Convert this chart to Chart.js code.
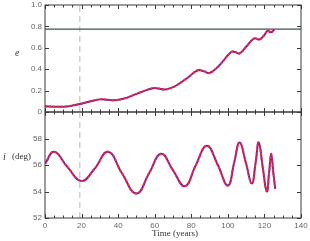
<!DOCTYPE html>
<html lang="en">
<head>
    <meta charset="UTF-8">
    <title>e and i vs time</title>
    <script src="https://cdn.jsdelivr.net/npm/chart.js"></script>
    <style>
        body {
            margin: 0;
            background: #fff;
        }

        .wrap {
            position: relative;
            width: 310px;
            height: 241px;
        }

        .wrap canvas {
            position: absolute;
            left: 0;
            top: 0;
        }
    </style>
</head>
<body>

    <div class="wrap">
        <canvas id="eChart" width="310" height="241"></canvas>
        <canvas id="iChart" width="310" height="241"></canvas>
    </div>

    <script>
        // eccentricity
        const timeE = [0, 5, 10, 15, 19, 25, 30, 34, 38, 43, 48, 54, 59, 62, 65.5, 69, 72, 78, 83.6, 87, 90, 95, 101.8, 104, 106.4, 110, 114.5, 117.3, 120, 121.8, 123.6, 125.4];
        const eccValues = [0.053, 0.05, 0.05, 0.06, 0.075, 0.1, 0.118, 0.115, 0.11, 0.125, 0.155, 0.195, 0.222, 0.22, 0.21, 0.225, 0.25, 0.32, 0.39, 0.38, 0.365, 0.43, 0.56, 0.56, 0.547, 0.61, 0.688, 0.678, 0.72, 0.76, 0.745, 0.772];

        // inclination (deg)
        const timeI = [0, 5, 12, 20, 27, 34.5, 42, 50, 57, 63.5, 70, 76.5, 82.5, 88.5, 94.5, 100, 103.5, 106.4, 109.8, 113.1, 115.2, 116.9, 119.1, 121.3, 122.6, 123.7, 124.8, 125.9];
        const incValues = [56.1, 57.0, 55.9, 54.8, 55.7, 57.0, 55.4, 53.85, 55.4, 56.85, 55.6, 54.4, 56.0, 57.45, 56.0, 54.45, 56.2, 57.7, 56.2, 54.6, 56.2, 57.7, 55.8, 54.0, 55.5, 56.85, 55.5, 54.2];

        const xTicks = [0, 20, 40, 60, 80, 100, 120, 140];
        const eTicks = [0, 0.2, 0.4, 0.6, 0.8, 1.0];
        const iTicks = [52, 54, 56, 58, 60];
        const markerTime = 19;
        const eLimit = 0.775;

        const purple = '#7a22a0';
        const red = '#ff2b2b';
        const tickFont = { family: 'Liberation Sans', size: 8 };
        const serif = 'Liberation Serif';

        function pts(xs, ys) {
            return xs.map((x, k) => ({ x: x, y: ys[k] }));
        }

        // box with inward ticks plus the axis titles
        const frame = {
            id: 'frame',
            afterDraw(chart, args, opts) {
                const { ctx, chartArea: a, scales: { x, y } } = chart;
                ctx.save();
                ctx.strokeStyle = '#3a3a3a';
                ctx.lineWidth = 1;
                ctx.strokeRect(a.left, a.top, a.width, a.height);
                ctx.beginPath();
                for (let v = xTicks[0]; v <= xTicks[xTicks.length - 1]; v += 5) {
                    const px = Math.round(x.getPixelForValue(v)) + 0.5;
                    const len = v % 20 === 0 ? 4 : 2.5;
                    ctx.moveTo(px, a.bottom); ctx.lineTo(px, a.bottom - len);
                    ctx.moveTo(px, a.top); ctx.lineTo(px, a.top + len);
                }
                opts.yTicks.forEach(v => {
                    const py = Math.round(y.getPixelForValue(v)) + 0.5;
                    ctx.moveTo(a.left, py); ctx.lineTo(a.left + 4, py);
                    ctx.moveTo(a.right, py); ctx.lineTo(a.right - 4, py);
                });
                ctx.stroke();
                ctx.fillStyle = '#333';
                ctx.textBaseline = 'middle';
                if (opts.kind === 'e') {
                    ctx.font = 'italic 10px ' + serif;
                    ctx.fillText('e', 15, 53);
                } else {
                    ctx.font = 'italic 10px ' + serif;
                    ctx.fillText('i', 3, 157);
                    ctx.font = '9px ' + serif;
                    ctx.fillText('(deg)', 12, 157);
                    ctx.textAlign = 'center';
                    ctx.fillText('Time (years)', 175, 234);
                }
                ctx.restore();
            }
        };

        function yFit(scale) {
            scale.width = 45;
            scale.paddingTop = 0;
            scale.paddingBottom = 0;
        }

        function curve(data, color, dash, order) {
            return {
                data: data,
                borderColor: color,
                borderWidth: 2,
                borderDash: dash || [],
                pointRadius: 0,
                tension: 0.45,
                order: order
            };
        }

        function refLine(data, color, dash, width) {
            return {
                data: data,
                borderColor: color,
                borderWidth: width,
                borderDash: dash,
                pointRadius: 0,
                order: 5
            };
        }

        // top panel: eccentricity
        new Chart(document.getElementById('eChart'), {
            type: 'line',
            data: {
                datasets: [
                    curve(pts(timeE, eccValues), red, [2, 2], 0),
                    curve(pts(timeE, eccValues), purple, null, 1),
                    refLine([{ x: 0, y: eLimit }, { x: 140, y: eLimit }], '#3d5358', [], 1.2),
                    refLine([{ x: markerTime, y: 0 }, { x: markerTime, y: 1 }], '#cfcfcf', [6, 4], 1.5)
                ]
            },
            options: {
                responsive: false,
                animation: false,
                devicePixelRatio: 1,
                layout: { padding: { left: 0, top: 5, right: 9, bottom: 129 } },
                plugins: { legend: { display: false }, tooltip: { enabled: false }, frame: { kind: 'e', yTicks: eTicks } },
                scales: {
                    x: { type: 'linear', min: 0, max: 140, display: false },
                    y: {
                        min: 0, max: 1,
                        afterFit: yFit,
                        afterBuildTicks: s => { s.ticks = eTicks.map(v => ({ value: v })); },
                        grid: { display: false, drawTicks: false },
                        border: { display: false },
                        ticks: {
                            padding: 3, color: '#666', font: tickFont,
                            callback: v => v === 0 ? '0' : v.toFixed(1)
                        }
                    }
                }
            },
            plugins: [frame]
        });

        // bottom panel: inclination
        new Chart(document.getElementById('iChart'), {
            type: 'line',
            data: {
                datasets: [
                    curve(pts(timeI, incValues), red, [2, 2], 0),
                    curve(pts(timeI, incValues), purple, null, 1),
                    refLine([{ x: markerTime, y: 52 }, { x: markerTime, y: 60 }], '#cfcfcf', [6, 4], 1.5)
                ]
            },
            options: {
                responsive: false,
                animation: false,
                devicePixelRatio: 1,
                layout: { padding: { left: 0, top: 112, right: 9, bottom: 0 } },
                plugins: { legend: { display: false }, tooltip: { enabled: false }, frame: { kind: 'i', yTicks: iTicks } },
                scales: {
                    x: {
                        type: 'linear', min: 0, max: 140,
                        afterFit: s => { s.height = 23; s.paddingLeft = 0; s.paddingRight = 0; },
                        afterBuildTicks: s => { s.ticks = xTicks.map(v => ({ value: v })); },
                        grid: { display: false, drawTicks: false },
                        border: { display: false },
                        ticks: { padding: 3, color: '#666', font: tickFont, maxRotation: 0 }
                    },
                    y: {
                        min: 52, max: 60,
                        afterFit: yFit,
                        afterBuildTicks: s => { s.ticks = iTicks.map(v => ({ value: v })); },
                        grid: { display: false, drawTicks: false },
                        border: { display: false },
                        ticks: {
                            padding: 3, color: '#666', font: tickFont,
                            callback: v => v === 60 ? '' : String(v)
                        }
                    }
                }
            },
            plugins: [frame]
        });
    </script>

</body>
</html>
